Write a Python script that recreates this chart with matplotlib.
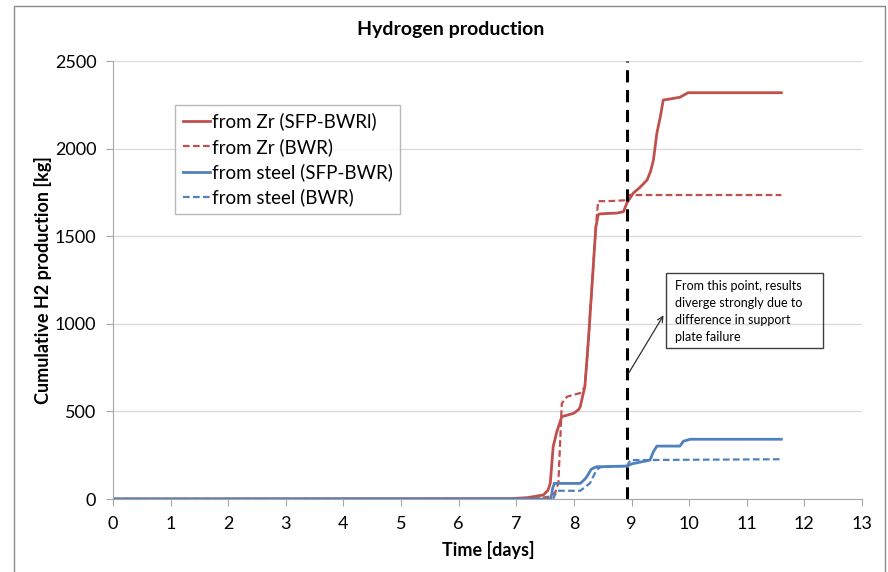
import matplotlib.pyplot as plt
from matplotlib.patches import Rectangle

plt.rcParams['font.family'] = ['Lato', 'DejaVu Sans']

# red solid: H2 from Zr (SFP-BWRl)
zr_sfp_t = [0, 6.9, 7.2, 7.47, 7.55, 7.59, 7.64, 7.7, 7.76, 7.79, 7.9, 8.0, 8.08, 8.11, 8.16,
            8.19, 8.25, 8.32, 8.38, 8.42, 8.44, 8.6, 8.75, 8.86, 8.92, 9.03, 9.15, 9.27, 9.33,
            9.38, 9.44, 9.5, 9.55, 9.7, 9.84, 9.98, 11.6]
zr_sfp_v = [0, 2, 8, 23, 50, 91, 299, 380, 441, 470, 480, 490, 510, 527, 600,
            641, 900, 1250, 1550, 1620, 1627, 1630, 1632, 1640, 1690, 1746, 1780, 1821, 1870,
            1935, 2089, 2182, 2277, 2285, 2293, 2319, 2319]

# red dashed: H2 from Zr (BWR)
zr_bwr_t = [0, 7.0, 7.4, 7.6, 7.68, 7.73, 7.79, 7.88, 8.0, 8.11, 8.19, 8.25, 8.32, 8.38, 8.42,
            8.6, 8.89, 8.95, 11.6]
zr_bwr_v = [0, 0, 5, 15, 40, 91, 546, 584, 595, 605, 641, 900, 1250, 1550, 1700,
            1700, 1705, 1735, 1735]

# blue solid: H2 from steel (SFP-BWR)
st_sfp_t = [0, 7.6, 7.63, 7.66, 8.11, 8.18, 8.22, 8.3, 8.39, 8.92, 9.0, 9.32, 9.38, 9.44,
            9.84, 9.9, 10.02, 11.6]
st_sfp_v = [0, 0, 60, 89, 89, 110, 125, 170, 184, 188, 200, 222, 270, 302,
            302, 330, 341, 341]

# blue dashed: H2 from steel (BWR)
st_bwr_t = [0, 7.64, 7.68, 7.72, 8.11, 8.2, 8.28, 8.39, 8.45, 8.92, 8.98, 11.6]
st_bwr_v = [0, 0, 30, 47, 47, 70, 91, 165, 181, 188, 222, 227]

t_split = 8.92

red = '#C0504D'
blue = '#4F81BD'

fig = plt.figure(figsize=(8.88, 5.72), dpi=100)
ax = fig.add_axes([113/888, 73/572, 749/888, 438/572])

ax.plot(zr_sfp_t, zr_sfp_v, color=red, lw=2, label='from Zr (SFP-BWRl)')
ax.plot(zr_bwr_t, zr_bwr_v, color=red, lw=1.6, ls=(0, (3, 1.5)), label='from Zr (BWR)')
ax.plot(st_sfp_t, st_sfp_v, color=blue, lw=2, label='from steel (SFP-BWR)')
ax.plot(st_bwr_t, st_bwr_v, color=blue, lw=1.6, ls=(0, (3, 1.5)), label='from steel (BWR)')
ax.axvline(t_split, color='black', lw=2.2, ls=(0, (4, 2.5)))

ax.set_xlim(0, 13)
ax.set_ylim(0, 2500)
ax.set_xticks(range(0, 14))
ax.set_yticks(range(0, 2501, 500))
ax.grid(axis='y', color='#D9D9D9', lw=0.9)
ax.set_axisbelow(True)
for s in ['top', 'right']:
    ax.spines[s].set_visible(False)
for s in ['left', 'bottom']:
    ax.spines[s].set_color('#A6A6A6')
ax.tick_params(colors='#A6A6A6', labelcolor='black', labelsize=13, length=5, pad=7)

leg = ax.legend(loc='upper left', bbox_to_anchor=(0.0828, 0.8995), borderaxespad=0,
                fontsize=13.5, frameon=True, fancybox=False, handlelength=1.45,
                handletextpad=0.1, labelspacing=0.4, borderpad=0.4)
leg.get_frame().set_edgecolor('#A6A6A6')
leg.get_frame().set_linewidth(1)

ax.add_patch(Rectangle((9.60, 862), 2.73, 428, fill=False, edgecolor='#404040', lw=1, zorder=5))
ax.text(9.76, 1250, 'From this point, results\ndiverge strongly due to\ndifference in support\nplate failure',
        fontsize=9, va='top', ha='left', linespacing=1.5, zorder=6)
ax.annotate('', xy=(9.58, 1062), xytext=(8.92, 702),
            arrowprops=dict(arrowstyle='->', color='#303030', lw=0.9))

fig.text(451/888, 1 - 30/572, 'Hydrogen production', ha='center', va='center',
         fontsize=14, fontweight='bold')
fig.text(43/888, 1 - 280/572, 'Cumulative H2 production [kg]', rotation=90,
         ha='center', va='center', fontsize=13, fontweight='bold')
fig.text(488/888, 1 - 550/572, 'Time [days]', ha='center', va='center',
         fontsize=13, fontweight='bold')

fig.patches.append(Rectangle((14/888, -0.02), 871/888, 1.02 - 6/572, transform=fig.transFigure,
                             fill=False, edgecolor='#8C8C8C', lw=1))

fig.savefig('out.png', dpi=100)
